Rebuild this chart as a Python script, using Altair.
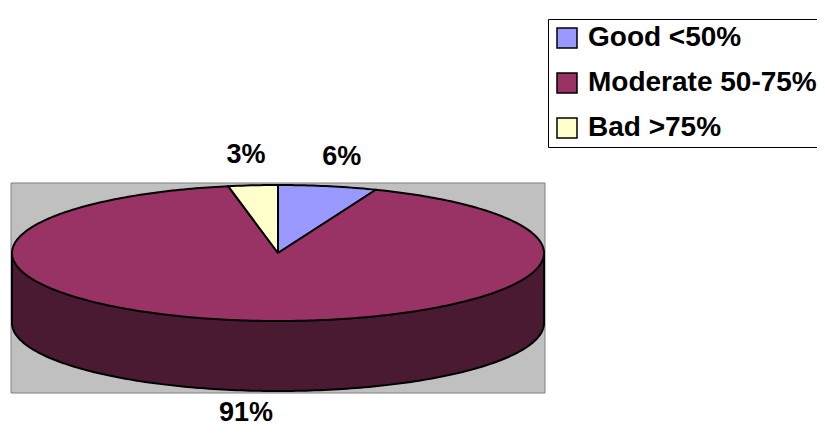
import altair as alt
import numpy as np
import pandas as pd

# ---- data ----
categories = ["Good <50%", "Moderate 50-75%", "Bad >75%"]
values = [6, 91, 3]
labels = ["6%", "91%", "3%"]
colors = ["#9999FF", "#993366", "#FFFFCC"]
side_color = "#4A1A33"

# ---- layout (pixels inside the view) ----
W, H = 809, 419
CX, CY, RX, RY, DEPTH = 270, 245, 266, 68, 70
LX, LY, LYB = 340, 98, 90

total = float(sum(values))

# top-face wedges (projected ellipse), built from the values
rows = []
start = 0.0
mids = []
for cat, v in zip(categories, values):
    a0 = start / total * 2 * np.pi
    a1 = (start + v) / total * 2 * np.pi
    mids.append((a0 + a1) / 2)
    n = max(int(v * 4), 12)
    th = np.linspace(a0, a1, n)
    pts = [(CX, CY)] + [(CX + RX * np.sin(t), CY - RY * np.cos(t)) for t in th] + [(CX, CY)]
    for i, (x, y) in enumerate(pts):
        rows.append({"cat": cat, "i": i, "x": x, "y": y})
    start += v
top_df = pd.DataFrame(rows)

# front side wall
th = np.linspace(np.pi / 2, 3 * np.pi / 2, 181)
side_df = pd.DataFrame({
    "x": CX + RX * np.sin(th),
    "y": CY - RY * np.cos(th),
})
side_df["y2"] = side_df["y"] + DEPTH
side_df["i"] = np.arange(len(side_df))

edge_df = pd.DataFrame({"x": [CX - RX, CX + RX], "y": [CY, CY], "y2": [CY + DEPTH, CY + DEPTH]})

bg_df = pd.DataFrame({"x": [CX - RX - 1], "x2": [CX + RX + 1],
                      "y": [CY - RY - 2], "y2": [CY + RY + DEPTH + 2]})

lab_rows = []
for cat, lab, m in zip(categories, labels, mids):
    c = np.cos(m)
    yy = CY - LY * c if c >= 0 else CY - LYB * c + DEPTH
    lab_rows.append({"cat": cat, "label": lab, "x": CX + LX * np.sin(m), "y": yy})
lab_df = pd.DataFrame(lab_rows)

xs = alt.Scale(domain=[0, W], nice=False, zero=False)
ys = alt.Scale(domain=[0, H], reverse=True, nice=False, zero=False)

bg = alt.Chart(bg_df).mark_rect(fill="#C0C0C0", stroke="#808080", strokeWidth=1).encode(
    x=alt.X("x:Q", scale=xs, axis=None), x2="x2:Q",
    y=alt.Y("y:Q", scale=ys, axis=None), y2="y2:Q")

side = alt.Chart(side_df).mark_area(color=side_color, opacity=1).encode(
    x=alt.X("x:Q", scale=xs, axis=None),
    y=alt.Y("y:Q", scale=ys, axis=None), y2="y2:Q")

side_line = alt.Chart(side_df).mark_line(color="black", strokeWidth=2).encode(
    x=alt.X("x:Q", scale=xs, axis=None),
    y=alt.Y("y2:Q", scale=ys, axis=None),
    order="i:Q")

edges = alt.Chart(edge_df).mark_rule(color="black", strokeWidth=2).encode(
    x=alt.X("x:Q", scale=xs, axis=None),
    y=alt.Y("y:Q", scale=ys, axis=None), y2="y2:Q")

top = alt.Chart(top_df).mark_line(strokeWidth=2, strokeJoin="round").encode(
    x=alt.X("x:Q", scale=xs, axis=None),
    y=alt.Y("y:Q", scale=ys, axis=None),
    order="i:Q",
    detail="cat:N",
    stroke=alt.value("black"),
    fill=alt.Fill("cat:N", scale=alt.Scale(domain=categories, range=colors),
                  legend=alt.Legend(orient="none", legendX=540, legendY=11, title=None,
                                    symbolType="square", symbolSize=400,
                                    symbolStrokeColor="black", symbolStrokeWidth=1.5,
                                    symbolOpacity=1,
                                    labelFont="Liberation Sans", labelFontSize=28,
                                    labelFontWeight="bold", labelColor="black",
                                    labelLimit=600, labelOffset=7, rowPadding=17,
                                    padding=5, strokeColor="black", fillColor="white")))

text = alt.Chart(lab_df).mark_text(font="Liberation Sans", fontSize=27, fontWeight="bold",
                                   color="black", align="center", baseline="middle").encode(
    x=alt.X("x:Q", scale=xs, axis=None),
    y=alt.Y("y:Q", scale=ys, axis=None),
    text="label:N")

chart = alt.layer(bg, side, side_line, edges, top, text).properties(
    width=W, height=H, padding=0,
    autosize=alt.AutoSizeParams(type="none"),
    background="white",
).configure_view(strokeWidth=0)

chart.save("out.html", embed_options={"renderer": "svg", "actions": False})
